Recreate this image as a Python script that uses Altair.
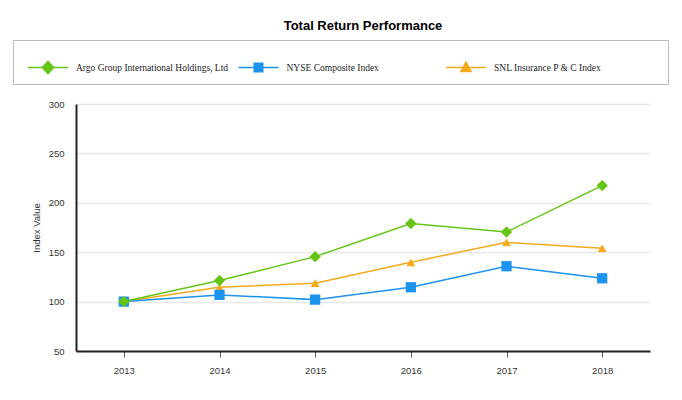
import altair as alt
import pandas as pd

years = ["2013", "2014", "2015", "2016", "2017", "2018"]
argo = [100, 121.3, 145.5, 179.0, 170.5, 217.4]
nyse = [100, 106.8, 102.0, 114.5, 135.8, 123.6]
snl = [100, 114.5, 118.6, 139.8, 160.0, 154.0]

series_names = [
    "Argo Group International Holdings, Ltd",
    "NYSE Composite Index",
    "SNL Insurance P & C Index",
]
colors = ["#66c514", "#1c93ef", "#f5aa1c"]
shapes = ["diamond", "square", "triangle-up"]
marker_sizes = [130, 80, 75]


# legend glyphs: a line segment with a solid marker (marker filled by nested outlines);
# a trailing move-to only widens the legend entry box, it draws nothing
def diamond_path(rings, extent=""):
    return "M-1,0H1" + "".join(
        f"M0,{-0.3 * s:.3f}L{0.28 * s:.3f},0L0,{0.3 * s:.3f}L{-0.28 * s:.3f},0Z" for s in rings
    ) + extent


def square_path(rings, extent=""):
    return "M-1,0H1" + "".join(
        f"M{-0.21 * s:.3f},{-0.21 * s:.3f}H{0.21 * s:.3f}V{0.21 * s:.3f}H{-0.21 * s:.3f}Z"
        for s in rings
    ) + extent


def triangle_path(rings, extent=""):
    c = 0.047
    return "M-1,0H1" + "".join(
        f"M0,{c + (-0.26 - c) * s:.3f}L{0.25 * s:.3f},{c + (0.2 - c) * s:.3f}"
        f"H{-0.25 * s:.3f}Z"
        for s in rings
    ) + extent


legend_shapes = [
    diamond_path([1, 0.72, 0.45, 0.18]),
    square_path([1, 0.66, 0.33, 0.05], "M8.7,0"),
    triangle_path([1, 0.66, 0.33, 0.05], "M9.6,0"),
]

rows = []
# reversed so that the first series is drawn on top
for name, vals in reversed(list(zip(series_names, [argo, nyse, snl]))):
    for y, v in zip(years, vals):
        rows.append({"year": y, "value": v, "series": name, "legend_series": name})
df = pd.DataFrame(rows)

x_enc = alt.X(
    "year:O",
    sort=years,
    scale=alt.Scale(type="point", padding=0.5),
    axis=alt.Axis(
        title=None, labelAngle=0, domainColor="#222", domainWidth=2,
        tickColor="#555", tickSize=6, ticks=True, labelPadding=8,
        grid=False,
    ),
)
y_enc = alt.Y(
    "value:Q",
    scale=alt.Scale(domain=[50, 300], nice=False, zero=False),
    axis=alt.Axis(
        title="Index Value", values=[50, 100, 150, 200, 250, 300],
        domainColor="#222", domainWidth=2, ticks=False, labelPadding=12,
        gridColor="#e8e8e8", gridWidth=1.5, titlePadding=7,
    ),
)
color_main = alt.Color(
    "series:N", scale=alt.Scale(domain=series_names, range=colors), legend=None
)

lines = alt.Chart(df).mark_line(strokeWidth=1.5).encode(
    x=x_enc, y=y_enc, color=color_main
)
points = alt.Chart(df).mark_point(filled=True, opacity=1).encode(
    x=x_enc,
    y=y_enc,
    color=color_main,
    shape=alt.Shape(
        "series:N", scale=alt.Scale(domain=series_names, range=shapes), legend=None
    ),
    size=alt.Size(
        "series:N", scale=alt.Scale(domain=series_names, range=marker_sizes), legend=None
    ),
)
legend_spec = alt.Legend(
    title=None, orient="none", legendX=-63, legendY=-64,
    direction="horizontal", columns=3, gridAlign="none",
    symbolSize=1600, symbolStrokeWidth=1.6, symbolOpacity=1,
    labelFont="Liberation Serif", labelFontSize=9.5, labelColor="#222",
    labelOffset=7, columnPadding=1.5, padding=6.5, symbolOffset=7.5,
    strokeColor="#bbbbbb", fillColor="white", labelLimit=300,
)
legend_layer = alt.Chart(df).transform_filter("false").mark_point(
    filled=False, opacity=1
).encode(
    x=x_enc,
    y=y_enc,
    color=alt.Color(
        "legend_series:N",
        scale=alt.Scale(domain=series_names, range=colors),
        legend=legend_spec,
    ),
    shape=alt.Shape(
        "legend_series:N",
        scale=alt.Scale(domain=series_names, range=legend_shapes),
        legend=legend_spec,
    ),
)

chart = (
    alt.layer(lines, points, legend_layer)
    .resolve_scale(color="independent", shape="independent", size="independent")
    .properties(
        width=574, height=247,
        autosize=alt.AutoSizeParams(type="none"),
        padding={"left": 68, "top": 96, "right": 24, "bottom": 30},
        title=alt.TitleParams(
            "Total Return Performance", font="Liberation Sans", fontSize=13,
            fontWeight="bold", color="#000", anchor="middle", offset=7,
        ),
    )
    .configure_view(stroke=None)
    .configure_axis(
        labelFont="Liberation Sans", labelFontSize=9.5, labelColor="#333",
        titleFont="Liberation Sans", titleFontSize=9.5, titleColor="#333",
        titleFontWeight="normal",
    )
)

chart.save("out.html", embed_options={"renderer": "svg", "actions": False})
